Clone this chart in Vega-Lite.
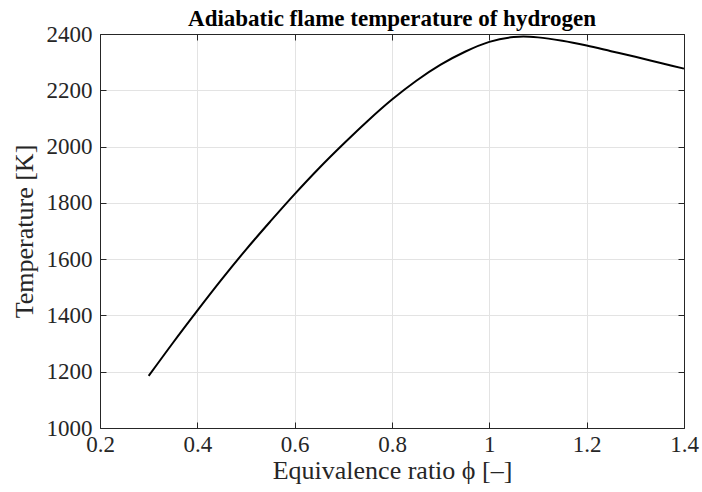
{
  "$schema": "https://vega.github.io/schema/vega-lite/v6.json",
  "width": 584,
  "height": 394,
  "autosize": {"type": "none"},
  "padding": {"left": 100, "top": 34, "right": 18, "bottom": 64},
  "background": "white",
  "title": {
    "text": "Adiabatic flame temperature of hydrogen",
    "font": "Liberation Serif",
    "fontSize": 23,
    "fontWeight": "bold",
    "color": "black",
    "anchor": "middle",
    "offset": 6,
    "dy": 14
  },
  "config": {
    "view": {"stroke": null},
    "axis": {
      "domainColor": "#262626",
      "domainWidth": 1,
      "tickColor": "#262626",
      "tickWidth": 1,
      "tickSize": -6,
      "gridColor": "#e3e3e3",
      "gridWidth": 1,
      "labelFont": "Liberation Serif",
      "labelFontSize": 23,
      "labelColor": "#262626",
      "labelFlush": false,
      "labelOverlap": false,
      "titleFont": "Liberation Serif",
      "titleFontSize": 26,
      "titleFontWeight": "normal",
      "titleColor": "#262626"
    }
  },
  "data": {
    "values": [
      {"phi": 0.30, "T": 1185},
      {"phi": 0.35, "T": 1303},
      {"phi": 0.40, "T": 1417},
      {"phi": 0.45, "T": 1528},
      {"phi": 0.50, "T": 1634},
      {"phi": 0.55, "T": 1734},
      {"phi": 0.60, "T": 1831},
      {"phi": 0.65, "T": 1923},
      {"phi": 0.70, "T": 2009},
      {"phi": 0.75, "T": 2091},
      {"phi": 0.80, "T": 2167},
      {"phi": 0.85, "T": 2234},
      {"phi": 0.90, "T": 2291},
      {"phi": 0.95, "T": 2337},
      {"phi": 1.00, "T": 2372},
      {"phi": 1.05, "T": 2389},
      {"phi": 1.07, "T": 2391},
      {"phi": 1.10, "T": 2388},
      {"phi": 1.15, "T": 2376},
      {"phi": 1.20, "T": 2359},
      {"phi": 1.25, "T": 2339},
      {"phi": 1.30, "T": 2319},
      {"phi": 1.35, "T": 2298},
      {"phi": 1.40, "T": 2277}
    ]
  },
  "resolve": {"axis": {"x": "independent", "y": "independent"}},
  "layer": [
    {
      "mark": {"type": "line", "color": "black", "strokeWidth": 2, "interpolate": "monotone"},
      "encoding": {
        "x": {
          "field": "phi",
          "type": "quantitative",
          "scale": {"domain": [0.2, 1.4], "nice": false, "zero": false},
          "axis": {
            "orient": "bottom",
            "values": [0.2, 0.4, 0.6, 0.8, 1, 1.2, 1.4],
            "format": "~g",
            "grid": true,
            "labelPadding": 11,
            "title": "Equivalence ratio ϕ [–]",
            "titlePadding": 1
          }
        },
        "y": {
          "field": "T",
          "type": "quantitative",
          "scale": {"domain": [1000, 2400], "nice": false, "zero": false},
          "axis": {
            "orient": "left",
            "values": [1000, 1200, 1400, 1600, 1800, 2000, 2200, 2400],
            "format": "d",
            "grid": true,
            "labelPadding": 14,
            "title": "Temperature [K]",
            "titlePadding": 9
          }
        }
      }
    },
    {
      "mark": {"type": "line", "opacity": 0},
      "encoding": {
        "x": {
          "field": "phi",
          "type": "quantitative",
          "axis": {
            "orient": "top",
            "values": [0.2, 0.4, 0.6, 0.8, 1, 1.2, 1.4],
            "labels": false,
            "grid": false,
            "title": null
          }
        },
        "y": {
          "field": "T",
          "type": "quantitative",
          "axis": {
            "orient": "right",
            "values": [1000, 1200, 1400, 1600, 1800, 2000, 2200, 2400],
            "labels": false,
            "grid": false,
            "title": null
          }
        }
      }
    }
  ]
}
